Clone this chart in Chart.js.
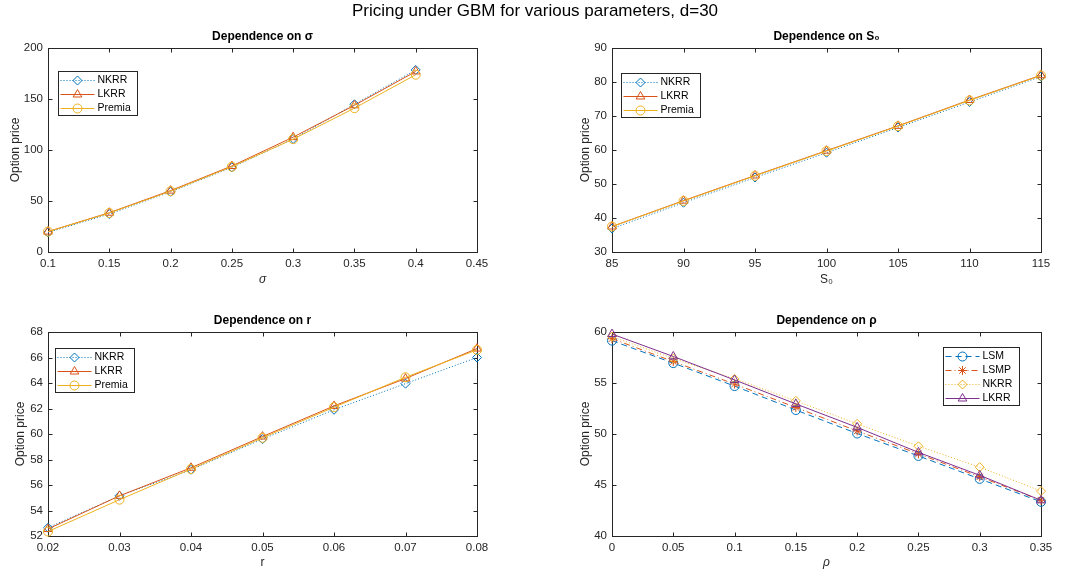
<!DOCTYPE html>
<html>
<head>
<meta charset="utf-8">
<title>Pricing under GBM</title>
<script src="https://cdn.jsdelivr.net/npm/chart.js@4.4.0/dist/chart.umd.min.js"></script>
<style>
  html, body { margin: 0; padding: 0; background: #fff; }
  #wrap { position: relative; width: 1070px; height: 577px; overflow: hidden; }
  #wrap canvas { position: absolute; left: 0; top: 0; }
  #suptitle {
    position: absolute; left: 0; top: 1px; width: 1070px; text-align: center;
    font: 17px "Liberation Sans", Arial, sans-serif; color: #000;
  }
</style>
</head>
<body>
<div id="wrap">
  <canvas id="cSigma" width="1070" height="577"></canvas>
  <canvas id="cS0" width="1070" height="577"></canvas>
  <canvas id="cR" width="1070" height="577"></canvas>
  <canvas id="cRho" width="1070" height="577"></canvas>
  <div id="suptitle">Pricing under GBM for various parameters, d=30</div>
</div>
<script>
// ---- sigma
const sigmaVals = [0.1, 0.15, 0.2, 0.25, 0.3, 0.35, 0.4]
const sigmaNKRR = [19.2, 37.2, 59.0, 83.0, 110.8, 144.8, 178.5]
const sigmaLKRR = [20.0, 38.5, 60.2, 84.3, 112.6, 143.8, 177.0]
const sigmaPremia = [20.0, 38.2, 59.6, 83.6, 110.6, 141.0, 173.8]
const sigmaXTicks = [0.1, 0.15, 0.2, 0.25, 0.3, 0.35, 0.4, 0.45]
const sigmaYTicks = [0, 50, 100, 150, 200]

// ---- S0
const s0Vals = [85, 90, 95, 100, 105, 110, 115]
const s0NKRR = [36.9, 44.5, 51.9, 59.2, 66.6, 74.1, 81.6]
const s0LKRR = [37.5, 45.1, 52.5, 59.8, 67.1, 74.7, 82.0]
const s0Premia = [37.5, 45.0, 52.4, 59.7, 67.0, 74.6, 81.9]
const s0XTicks = [85, 90, 95, 100, 105, 110, 115]
const s0YTicks = [30, 40, 50, 60, 70, 80, 90]

// ---- r
const rVals = [0.02, 0.03, 0.04, 0.05, 0.06, 0.07, 0.08]
const rNKRR = [52.65, 55.15, 57.2, 59.6, 61.9, 63.95, 66.0]
const rLKRR = [52.55, 55.15, 57.35, 59.8, 62.2, 64.35, 66.7]
const rPremia = [52.35, 54.85, 57.25, 59.7, 62.1, 64.45, 66.6]
const rXTicks = [0.02, 0.03, 0.04, 0.05, 0.06, 0.07, 0.08]
const rYTicks = [52, 54, 56, 58, 60, 62, 64, 66, 68]

// ---- rho
const rhoVals = [0, 0.05, 0.1, 0.15, 0.2, 0.25, 0.3, 0.35]
const rhoLSM = [59.15, 56.95, 54.7, 52.35, 50.05, 47.85, 45.6, 43.35]
const rhoLSMP = [59.35, 57.1, 54.9, 52.6, 50.3, 48.05, 45.8, 43.5]
const rhoNKRR = [59.55, 57.4, 55.4, 53.25, 51.0, 48.8, 46.75, 44.4]
const rhoLKRR = [59.8, 57.6, 55.3, 52.95, 50.65, 48.2, 45.95, 43.5]
const rhoXTicks = [0, 0.05, 0.1, 0.15, 0.2, 0.25, 0.3, 0.35]
const rhoYTicks = [40, 45, 50, 55, 60]

const blue = '#0072BD', orange = '#D95319', yellow = '#EDB120', purple = '#7E2F8E'
const axisColor = '#262626'
const FONT = '"Liberation Sans", Arial, Helvetica, sans-serif'

Chart.defaults.font.family = FONT
Chart.defaults.color = axisColor

const DOT = [1, 2], DASH = [6, 4], DASHDOT = [6, 3, 1, 3]

function series(label, xs, ys, color, marker, dash, order) {
  return {
    label: label,
    data: xs.map((x, i) => ({ x: x, y: ys[i] })),
    borderColor: color,
    backgroundColor: color,
    borderWidth: 1,
    borderDash: dash,
    pointStyle: marker,
    pointRadius: marker === 'triangle' ? 5 : 4.5,
    pointBorderWidth: 1,
    pointBorderColor: color,
    pointBackgroundColor: 'rgba(0,0,0,0)',
    tension: 0,
    clip: false,
    order: order
  }
}

// plot frame with inward tick marks on all four sides
const matlabBox = {
  id: 'matlabBox',
  beforeDatasetsDraw(chart) {
    const ctx = chart.ctx, a = chart.chartArea
    const sx = chart.scales.x, sy = chart.scales.y
    const L = Math.round(a.left) + 0.5, R = Math.round(a.right) + 0.5
    const T = Math.round(a.top) + 0.5, B = Math.round(a.bottom) + 0.5
    const tl = 4
    ctx.save()
    ctx.strokeStyle = axisColor
    ctx.lineWidth = 1
    ctx.beginPath()
    sx.ticks.forEach(t => {
      const px = Math.round(sx.getPixelForValue(t.value)) + 0.5
      ctx.moveTo(px, B); ctx.lineTo(px, B - tl)
      ctx.moveTo(px, T); ctx.lineTo(px, T + tl)
    })
    sy.ticks.forEach(t => {
      const py = Math.round(sy.getPixelForValue(t.value)) + 0.5
      ctx.moveTo(L, py); ctx.lineTo(L + tl, py)
      ctx.moveTo(R, py); ctx.lineTo(R - tl, py)
    })
    ctx.stroke()
    ctx.strokeRect(L, T, R - L, B - T)
    ctx.restore()
  }
}

function marker(ctx, style, r, x, y) {
  if (Chart.helpers && Chart.helpers.drawPoint) {
    Chart.helpers.drawPoint(ctx, { pointStyle: style, radius: r, rotation: 0, borderWidth: 1 }, x, y)
    return
  }
  ctx.beginPath(); ctx.arc(x, y, r, 0, Math.PI * 2); ctx.stroke()
}

// boxed legend with line sample + marker
const boxLegend = {
  id: 'boxLegend',
  afterDraw(chart, args, opts) {
    const ctx = chart.ctx, a = chart.chartArea
    const sets = chart.data.datasets
    const rowH = 14, lineLen = 34
    ctx.save()
    ctx.font = '10.5px ' + FONT
    const textW = Math.max(...sets.map(d => ctx.measureText(d.label).width))
    const w = Math.round(lineLen + 6 + textW + 6), h = sets.length * rowH + 2
    const x0 = Math.round(opts.corner === 'right' ? a.right - opts.dx - w : a.left + opts.dx) + 0.5
    const y0 = Math.round(a.top + opts.dy) + 0.5
    ctx.fillStyle = '#fff'
    ctx.fillRect(x0, y0, w, h)
    ctx.strokeStyle = axisColor
    ctx.lineWidth = 1
    ctx.strokeRect(x0, y0, w, h)
    sets.forEach((d, i) => {
      const cy = Math.round(y0 + 1 + rowH * i + rowH / 2) + 0.5
      ctx.strokeStyle = d.borderColor
      ctx.setLineDash(d.borderDash || [])
      ctx.beginPath(); ctx.moveTo(x0 + 2, cy); ctx.lineTo(x0 + 2 + lineLen, cy); ctx.stroke()
      ctx.setLineDash([])
      ctx.fillStyle = 'rgba(0,0,0,0)'
      marker(ctx, d.pointStyle, d.pointRadius, x0 + 2 + lineLen / 2, cy)
      ctx.fillStyle = '#000'
      ctx.textBaseline = 'middle'
      ctx.textAlign = 'left'
      ctx.fillText(d.label, x0 + lineLen + 5, cy)
    })
    ctx.restore()
  }
}

function makeChart(id, cfg) {
  const numFmt = v => String(Number(v.toFixed(4)))
  return new Chart(document.getElementById(id), {
    type: 'line',
    data: { datasets: cfg.datasets },
    plugins: [matlabBox, boxLegend],
    options: {
      responsive: false,
      animation: false,
      devicePixelRatio: 1,
      layout: { padding: cfg.pad },
      plugins: {
        legend: { display: false },
        tooltip: { enabled: false },
        title: {
          display: true, text: cfg.title, fullSize: false, color: '#000',
          font: { size: 12, weight: 'bold' }, padding: { top: 0, bottom: 4 }
        },
        boxLegend: cfg.legend
      },
      scales: {
        x: {
          type: 'linear', min: cfg.xTicks[0], max: cfg.xTicks[cfg.xTicks.length - 1],
          afterBuildTicks: s => { s.ticks = cfg.xTicks.map(v => ({ value: v })) },
          afterFit: s => { s.height = cfg.xHeight },
          grid: { display: false, drawTicks: false }, border: { display: false },
          ticks: { color: axisColor, padding: 5, font: { size: 11.5 }, maxRotation: 0, autoSkip: false, callback: numFmt },
          title: {
            display: true, text: cfg.xLabel, color: axisColor,
            font: { size: 12, style: cfg.xItalic ? 'italic' : 'normal' }, padding: { top: 0, bottom: 4 }
          }
        },
        y: {
          type: 'linear', min: cfg.yTicks[0], max: cfg.yTicks[cfg.yTicks.length - 1],
          afterBuildTicks: s => { s.ticks = cfg.yTicks.map(v => ({ value: v })) },
          afterFit: s => { s.width = cfg.yWidth },
          grid: { display: false, drawTicks: false }, border: { display: false },
          ticks: { color: axisColor, padding: 5, font: { size: 11.5 }, autoSkip: false, callback: numFmt },
          title: {
            display: true, text: 'Option price', color: axisColor,
            font: { size: 12 }, padding: { top: 4, bottom: 0 }
          }
        }
      }
    }
  })
}

makeChart('cSigma', {
  title: 'Dependence on σ', xLabel: 'σ', xItalic: true,
  xTicks: sigmaXTicks, yTicks: sigmaYTicks,
  pad: { left: 4, right: 593, top: 29.6, bottom: 286 }, yWidth: 44, xHeight: 39,
  legend: { corner: 'left', dx: 10, dy: 23 },
  datasets: [
    series('NKRR', sigmaVals, sigmaNKRR, blue, 'rectRot', DOT, 3),
    series('LKRR', sigmaVals, sigmaLKRR, orange, 'triangle', [], 2),
    series('Premia', sigmaVals, sigmaPremia, yellow, 'circle', [], 1)
  ]
})

makeChart('cS0', {
  title: 'Dependence on S₀', xLabel: 'S₀', xItalic: false,
  xTicks: s0XTicks, yTicks: s0YTicks,
  pad: { left: 574, right: 29, top: 29.6, bottom: 286 }, yWidth: 38, xHeight: 39,
  legend: { corner: 'left', dx: 9, dy: 25 },
  datasets: [
    series('NKRR', s0Vals, s0NKRR, blue, 'rectRot', DOT, 3),
    series('LKRR', s0Vals, s0LKRR, orange, 'triangle', [], 2),
    series('Premia', s0Vals, s0Premia, yellow, 'circle', [], 1)
  ]
})

makeChart('cR', {
  title: 'Dependence on r', xLabel: 'r', xItalic: false,
  xTicks: rXTicks, yTicks: rYTicks,
  pad: { left: 9, right: 593, top: 313.6, bottom: 3 }, yWidth: 39, xHeight: 38,
  legend: { corner: 'left', dx: 7, dy: 16 },
  datasets: [
    series('NKRR', rVals, rNKRR, blue, 'rectRot', DOT, 3),
    series('LKRR', rVals, rLKRR, orange, 'triangle', [], 2),
    series('Premia', rVals, rPremia, yellow, 'circle', [], 1)
  ]
})

makeChart('cRho', {
  title: 'Dependence on ρ', xLabel: 'ρ', xItalic: true,
  xTicks: rhoXTicks, yTicks: rhoYTicks,
  pad: { left: 574, right: 29, top: 313.6, bottom: 3 }, yWidth: 38, xHeight: 38,
  legend: { corner: 'right', dx: 22, dy: 15 },
  datasets: [
    series('LSM', rhoVals, rhoLSM, blue, 'circle', DASH, 4),
    series('LSMP', rhoVals, rhoLSMP, orange, 'star', DASHDOT, 3),
    series('NKRR', rhoVals, rhoNKRR, yellow, 'rectRot', DOT, 2),
    series('LKRR', rhoVals, rhoLKRR, purple, 'triangle', [], 1)
  ]
})
</script>
</body>
</html>
